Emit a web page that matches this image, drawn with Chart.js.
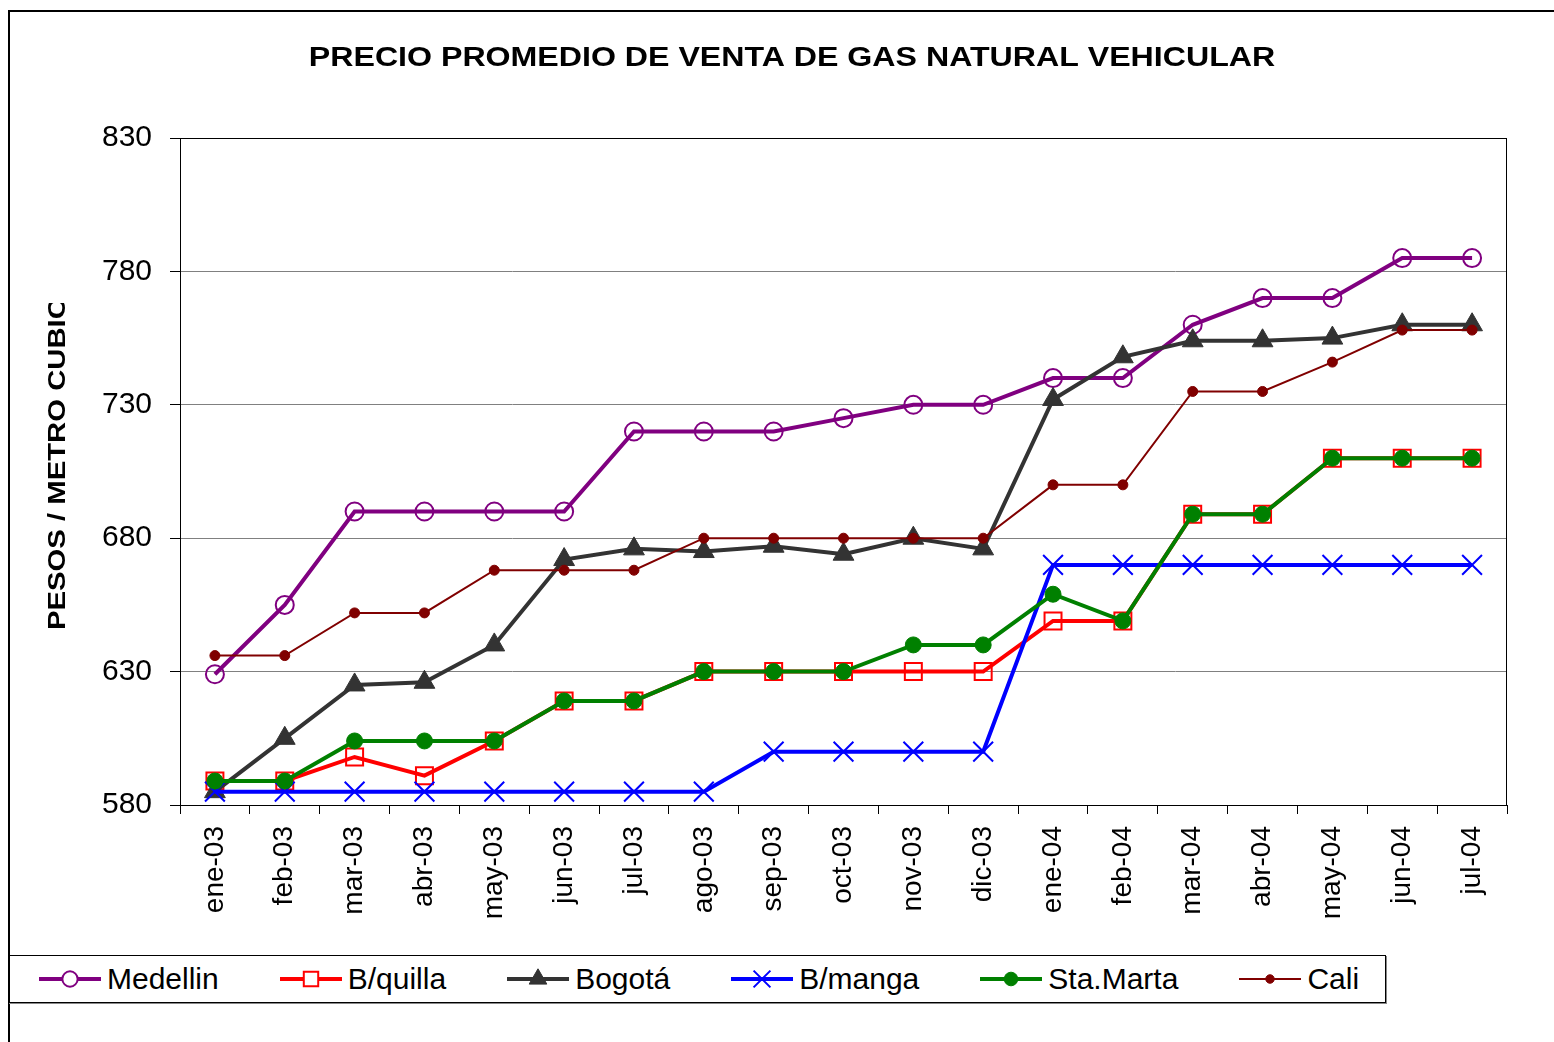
<!DOCTYPE html>
<html>
<head>
<meta charset="utf-8">
<script src="https://cdn.jsdelivr.net/npm/chart.js@4/dist/chart.umd.min.js"></script>
<style>
  html, body { margin: 0; padding: 0; background: #fff; overflow: hidden; }
  body { width: 1554px; height: 1042px; position: relative; font-family: "Liberation Sans", Arial, sans-serif; }
  #frame { position: absolute; left: 8px; top: 10px; width: 1600px; height: 1100px; border: 2px solid #000; }
  #chart { position: absolute; left: 0; top: 0; }
  #legend { position: absolute; left: 8px; top: 955px; width: 1378px; height: 48px; box-sizing: border-box;
            border: 1px solid #000; box-shadow: 1px 1px 0 #888; display: flex; align-items: center; padding-left: 30px; }
  .item { display: flex; align-items: center; margin-right: 61px; font-size: 30px; color: #000; }
  .item canvas { margin-right: 6px; }
</style>
</head>
<body>
<div id="frame"></div>
<canvas id="chart" width="1554" height="940"></canvas>
<div id="legend"></div>
<script>
// Datos
const meses = ['ene-03','feb-03','mar-03','abr-03','may-03','jun-03','jul-03','ago-03','sep-03','oct-03',
               'nov-03','dic-03','ene-04','feb-04','mar-04','abr-04','may-04','jun-04','jul-04'];
const medellin = [629,655,690,690,690,690,720,720,720,725,730,730,740,740,760,770,770,785,785];
const bquilla  = [589,589,598,591,604,619,619,630,630,630,630,630,649,649,689,689,710,710,710];
const bogota   = [585,605,625,626,640,672,676,675,677,674,680,676,732,748,754,754,755,760,760];
const bmanga   = [585,585,585,585,585,585,585,585,600,600,600,600,670,670,670,670,670,670,670];
const staMarta = [589,589,604,604,604,619,619,630,630,630,640,640,659,649,689,689,710,710,710];
const cali     = [636,636,652,652,668,668,668,680,680,680,680,680,700,700,735,735,746,758,758];
const yTicks = { min: 580, max: 830, step: 50 };

const FONT = '"Liberation Sans", Arial, sans-serif';

const series = [
    { label: 'Medellin', data: medellin, color: '#800080', width: 4, style: 'circle', radius: 9, fill: 'rgba(0,0,0,0)', bw: 2 },
    { label: 'B/quilla', data: bquilla, color: '#ff0000', width: 4, style: 'rect', radius: 12, fill: 'rgba(0,0,0,0)', bw: 2 },
    { label: 'Bogotá', data: bogota, color: '#333333', width: 4, style: 'triangle', radius: 12, fill: '#333333', bw: 1 },
    { label: 'B/manga', data: bmanga, color: '#0000ff', width: 4, style: 'crossRot', radius: 14, fill: '#0000ff', bw: 2 },
    { label: 'Sta.Marta', data: staMarta, color: '#008000', width: 4, style: 'circle', radius: 8, fill: '#008000', bw: 1 },
    { label: 'Cali', data: cali, color: '#800000', width: 2, style: 'circle', radius: 5, fill: '#800000', bw: 1 },
];

const datasets = series.map((s, i) => ({
    label: s.label,
    data: s.data,
    borderColor: s.color,
    borderWidth: s.width,
    pointStyle: s.style,
    pointRadius: s.radius,
    pointHoverRadius: s.radius,
    pointBackgroundColor: s.fill,
    pointBorderColor: s.color,
    pointBorderWidth: s.bw,
    tension: 0,
    order: series.length - i, // la última serie queda encima
}));

// Títulos y marco del área de trazado
const extras = {
    id: 'extras',
    beforeDatasetsDraw(chart) {
        const { ctx, chartArea: a } = chart;
        ctx.save();
        ctx.strokeStyle = '#000';
        ctx.lineWidth = 1;
        ctx.strokeRect(a.left + 0.5, a.top + 0.5, a.right - a.left - 1, a.bottom - a.top);
        ctx.restore();
    },
    afterDraw(chart) {
        const ctx = chart.ctx;
        ctx.save();
        ctx.fillStyle = '#000';
        ctx.font = 'bold 27px ' + FONT;
        ctx.textAlign = 'center';
        ctx.textBaseline = 'middle';
        ctx.translate(792, 59);
        ctx.scale(1.19, 1);
        ctx.fillText('PRECIO PROMEDIO DE VENTA DE GAS NATURAL VEHICULAR', 0, 0);
        ctx.restore();

        ctx.save();
        ctx.beginPath();
        ctx.rect(0, 303, 170, 600);
        ctx.clip();
        ctx.fillStyle = '#000';
        ctx.font = 'bold 24px ' + FONT;
        ctx.textAlign = 'left';
        ctx.textBaseline = 'middle';
        ctx.translate(58, 630);
        ctx.rotate(-Math.PI / 2);
        ctx.scale(1.22, 1);
        ctx.fillText('PESOS / METRO CUBICO', 0, 0);
        ctx.restore();
    }
};

const chart = new Chart(document.getElementById('chart').getContext('2d'), {
    type: 'line',
    data: { labels: meses, datasets: datasets },
    options: {
        responsive: false,
        animation: false,
        events: [],
        layout: { padding: { top: 138, right: 47, left: 0, bottom: 0 } },
        plugins: { legend: { display: false }, title: { display: false }, tooltip: { enabled: false } },
        scales: {
            x: {
                offset: true,
                afterFit: (s) => { s.height = 135; },
                grid: { offset: true, drawOnChartArea: false, tickLength: 9, color: '#000', tickColor: '#000' },
                border: { color: '#000', width: 1 },
                ticks: { autoSkip: false, maxRotation: 90, minRotation: 90, padding: 12, color: '#000',
                         font: { family: FONT, size: 28 } },
            },
            y: {
                min: yTicks.min,
                max: yTicks.max,
                afterFit: (s) => { s.width = 180; },
                grid: { color: '#808080', lineWidth: 1, tickLength: 10, tickColor: '#000' },
                border: { color: '#000', width: 1 },
                ticks: { stepSize: yTicks.step, padding: 18, color: '#000', font: { family: FONT, size: 30 } },
            },
        },
    },
    plugins: [extras],
});

// Leyenda en HTML con muestras dibujadas
const legend = document.getElementById('legend');
series.forEach((s) => {
    const item = document.createElement('div');
    item.className = 'item';
    const cv = document.createElement('canvas');
    cv.width = 62; cv.height = 30;
    const c = cv.getContext('2d');
    c.strokeStyle = s.color;
    c.lineWidth = s.width;
    c.beginPath(); c.moveTo(0, 15); c.lineTo(62, 15); c.stroke();
    c.fillStyle = s.fill === 'rgba(0,0,0,0)' ? '#fff' : s.fill;
    c.lineWidth = s.bw;
    if (Chart.helpers && Chart.helpers.drawPoint) {
        Chart.helpers.drawPoint(c, { pointStyle: s.style, radius: s.radius * 0.85, borderWidth: s.bw, rotation: 0 }, 31, 15);
    }
    const txt = document.createElement('span');
    txt.textContent = s.label;
    item.appendChild(cv);
    item.appendChild(txt);
    legend.appendChild(item);
});
</script>
</body>
</html>
